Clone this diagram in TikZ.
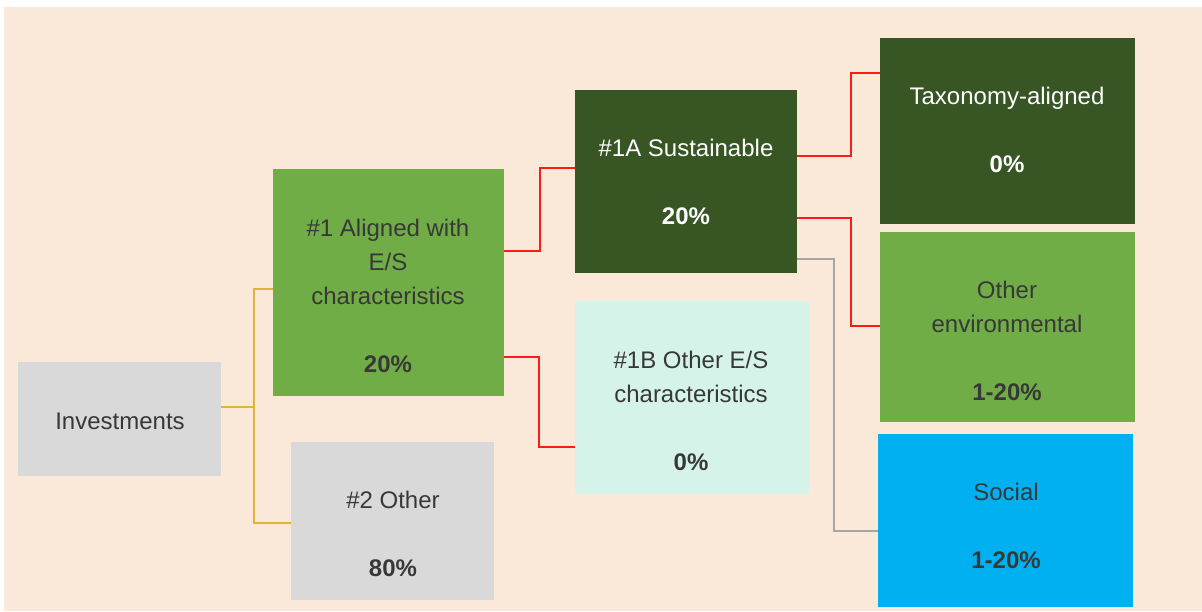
\documentclass[tikz,border=0pt]{standalone}
\usepackage{fontspec}
\setmainfont{Liberation Sans}
\definecolor{bgbeige}{HTML}{FAE9D9}
\definecolor{boxgrey}{HTML}{D9D9D9}
\definecolor{midgreen}{HTML}{70AD47}
\definecolor{darkgreen}{HTML}{375623}
\definecolor{mint}{HTML}{D5F3E8}
\definecolor{skyblue}{HTML}{00B0F0}
\definecolor{txtgrey}{HTML}{383838}
\definecolor{linegold}{HTML}{E2B23A}
\definecolor{linered}{HTML}{FF1A1A}
\definecolor{linegrey}{HTML}{A6A6A6}
\begin{document}
\begin{tikzpicture}[x=1pt,y=-1pt,
  box/.style={draw=none,inner sep=0pt,anchor=north west},
  lbl/.style={align=center,font=\fontsize{24}{34}\selectfont,text=txtgrey,inner sep=0pt},
  wlbl/.style={lbl,text=white},
  goldline/.style={draw=linegold,line width=1.6pt},
  redline/.style={draw=linered,line width=1.3pt},
  greyline/.style={draw=linegrey,line width=1.6pt}]
\useasboundingbox (0,0) rectangle (1202,611);
\fill[bgbeige] (4,7) rectangle (1202,611);
% boxes
\node[box,fill=boxgrey,minimum width=203pt,minimum height=114pt] (inv) at (18,362) {};
\node[box,fill=midgreen,minimum width=231pt,minimum height=227pt] (al) at (273,169) {};
\node[box,fill=boxgrey,minimum width=203pt,minimum height=158pt] (oth) at (291,442) {};
\node[box,fill=darkgreen,minimum width=222pt,minimum height=183pt] (sus) at (575,90) {};
\node[box,fill=mint,minimum width=234pt,minimum height=193pt] (oes) at (575,301) {};
\node[box,fill=darkgreen,minimum width=255pt,minimum height=186pt] (tax) at (880,38) {};
\node[box,fill=midgreen,minimum width=255pt,minimum height=190pt] (env) at (880,232) {};
\node[box,fill=skyblue,minimum width=255pt,minimum height=173pt] (soc) at (878,434) {};
% texts
\node[lbl] (tinv) at (120,421) {Investments};
\node[lbl] (tal) at (388,295.5) {\#1 Aligned with\\E/S\\characteristics\\[34pt]\textbf{20\%}};
\node[lbl] (toth) at (393,534) {\#2 Other\\[34pt]\textbf{80\%}};
\node[wlbl] (tsus) at (686,182) {\#1A Sustainable\\[34pt]\textbf{20\%}};
\node[lbl] (toes) at (691,410.5) {\#1B Other E/S\\characteristics\\[34pt]\textbf{0\%}};
\node[wlbl] (ttax) at (1007,130) {Taxonomy-aligned\\[34pt]\textbf{0\%}};
\node[lbl] (tenv) at (1007,340.5) {Other\\environmental\\[34pt]\textbf{1-20\%}};
\node[lbl] (tsoc) at (1006,526) {Social\\[34pt]\textbf{1-20\%}};
% connector coordinates
\coordinate (invR) at (221,407);
\coordinate (alL) at (273,289);
\coordinate (othL) at (291,523);
\coordinate (alR1) at (504,251);
\coordinate (alR2) at (504,357);
\coordinate (susL) at (575,168);
\coordinate (oesL) at (575,447);
\coordinate (susR1) at (797,156);
\coordinate (susR2) at (797,218);
\coordinate (susR3) at (797,259);
\coordinate (taxL) at (880,73);
\coordinate (envL) at (880,326);
\coordinate (socL) at (878,531);
% connectors
\draw[goldline] (invR) -- (254,407);
\draw[goldline] (alL) -- (254,289) -- (254,523) -- (othL);
\draw[redline] (alR1) -- (540,251) -- (540,168) -- (susL);
\draw[redline] (alR2) -- (539,357) -- (539,447) -- (oesL);
\draw[redline] (susR1) -- (851,156) -- (851,73) -- (taxL);
\draw[redline] (susR2) -- (851,218) -- (851,326) -- (envL);
\draw[greyline] (susR3) -- (834,259) -- (834,531) -- (socL);
\end{tikzpicture}
\end{document}
